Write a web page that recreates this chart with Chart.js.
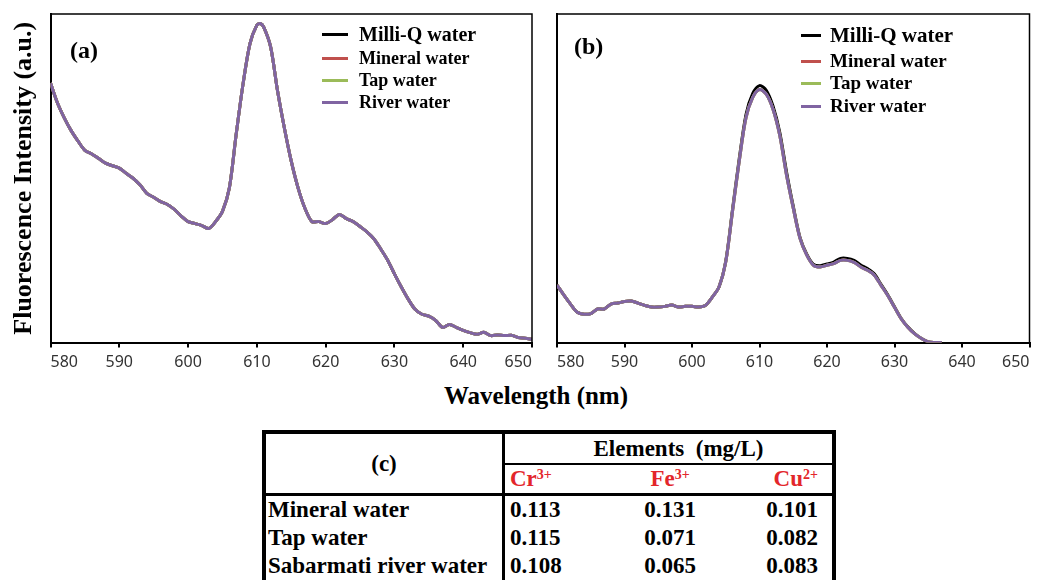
<!DOCTYPE html>
<html>
<head>
<meta charset="utf-8">
<script src="https://cdn.jsdelivr.net/npm/chart.js@4"></script>
<style>
  body { margin: 0; background: #fff; overflow: hidden; width: 1038px; height: 580px; position: relative; font-family: 'Liberation Serif', serif; }
  canvas { position: absolute; top: 0; }
  .panel { position: absolute; font: bold 24px 'Liberation Serif', serif; color: #000; }
  .legend-row { position: absolute; white-space: nowrap; font-weight: bold; color: #000; }
  .legend-line { position: absolute; height: 3px; }
  #xtitle { position: absolute; left: 0; width: 1072px; top: 382px; text-align: center; font: bold 25px 'Liberation Serif', serif; }
  #tbl { position: absolute; left: 262px; top: 430px; border-collapse: separate; border-spacing: 0; border: 4px solid #000; table-layout: fixed; font: bold 23px 'Liberation Serif', serif; color: #000; }
  #tbl td { padding: 0; box-sizing: border-box; line-height: 24px; white-space: nowrap; }
  .red { color: #e3262b; }
  sup { font-size: 14px; vertical-align: 7px; line-height: 0; }
</style>
</head>
<body>
<canvas id="chartA" width="550" height="380" style="left:0px"></canvas>
<canvas id="chartB" width="530" height="380" style="left:530px"></canvas>
<div class="panel" style="left:70px; top:37px">(a)</div>
<div class="panel" style="left:574px; top:33px">(b)</div>
<div id="legendA"></div>
<div id="legendB"></div>
<div id="xtitle">Wavelength (nm)</div>
<table id="tbl"></table>
<script>
// series
const seriesNames = ['Milli-Q water', 'Mineral water', 'Tap water', 'River water'];
const seriesColors = ['#000000', '#c0504d', '#9bbb59', '#8064a2'];

// panel (a) - all four spectra overlap
const wavelengthsA = [580, 581, 582, 583, 584, 585, 586, 587, 588, 589, 590, 591, 592, 593, 594, 595, 596, 597, 598, 599,
  600, 601, 602, 603, 604, 605, 606, 607, 608, 609, 610, 610.5, 611, 612, 613, 614, 615, 616, 617, 618, 619,
  620, 621, 622, 623, 624, 625, 626, 627, 628, 629, 630, 631, 632, 633, 634, 635, 636, 637, 638, 639,
  640, 641, 642, 643, 644, 645, 646, 647, 648, 649, 650];
const intensityA = [79, 73, 68.4, 64.5, 61.3, 58.5, 57.4, 56, 54.6, 53.8, 53.1, 51.5, 50, 48, 45.4, 44.2, 42.9, 42, 40.5, 38.5,
  36.8, 36.2, 35.6, 34.7, 36.8, 39.9, 47, 63.5, 78.8, 91, 96.6, 97.1, 96, 90, 76.7, 65.3, 55.2, 47, 40.8, 36.8, 36.8,
  36.2, 37.4, 39, 37.7, 36.8, 35.3, 33.7, 31.6, 28.5, 25.1, 20.9, 16.9, 13.2, 10.1, 8.6, 8, 6.7, 4.6, 5.5, 4.6,
  3.7, 3, 2.5, 3.1, 2.1, 2.3, 2.1, 2.2, 1.5, 1.3, 1];

// panel (b)
const wavelengthsB = [580, 581, 582, 583, 584, 585, 586, 587, 588, 589, 590, 591, 592, 593, 594, 595, 596, 597, 598, 599,
  600, 601, 602, 603, 604, 605, 606, 607, 608, 609, 610, 611, 612, 613, 614, 615, 616, 617, 618, 619,
  620, 621, 622, 623, 624, 625, 626, 627, 628, 629, 630, 631, 632, 633, 634, 635, 636, 637];
const intensityBMilliQ = [17.5, 14.5, 11.7, 9.2, 8.6, 8.8, 10.2, 10.2, 11.7, 12, 12.5, 12.6, 12, 11.3, 10.8, 10.8, 11, 11.4, 10.8, 11,
  11, 10.8, 11.3, 13.8, 16.9, 24.8, 40.5, 56, 69.4, 75.8, 78.2, 76.8, 72, 64, 52, 41.5, 32, 26.9, 23.8, 23.4,
  23.9, 24.5, 25.6, 25.6, 25, 23.6, 22.5, 20.9, 17.7, 14.5, 10.9, 7.3, 4.7, 2.7, 1.2, 0.2, 0, 0];
const intensityBSamples = [17.5, 14.5, 11.7, 9.2, 8.6, 8.8, 10.2, 10.2, 11.7, 12, 12.5, 12.6, 12, 11.3, 10.8, 10.8, 11, 11.4, 10.8, 11,
  11, 10.8, 11.3, 13.8, 16.9, 24.5, 39.9, 55.2, 68.4, 74.6, 77, 75.6, 71, 63, 51, 40.9, 31.7, 26.6, 23.5, 23,
  23.5, 24, 25, 25, 24.4, 23, 22, 20.5, 17.4, 14.3, 10.7, 7.2, 4.6, 2.6, 1.2, 0.2, 0, 0];

// table (c)
const elementHeads = [['Cr', '3+'], ['Fe', '3+'], ['Cu', '2+']];
const sampleNames = ['Mineral water', 'Tap water', 'Sabarmati river water'];
const crValues = ['0.113', '0.115', '0.108'];
const feValues = ['0.131', '0.071', '0.065'];
const cuValues = ['0.101', '0.082', '0.083'];

const framePlugin = {
  id: 'frame',
  afterDraw(chart) {
    const { ctx, chartArea: a } = chart;
    ctx.save();
    ctx.strokeStyle = '#000';
    ctx.lineWidth = 1.5;
    ctx.beginPath();
    ctx.moveTo(a.left, a.top);
    ctx.lineTo(a.right, a.top);
    ctx.lineTo(a.right, a.bottom);
    ctx.stroke();
    ctx.restore();
  }
};

function toPoints(xs, ys) {
  return xs.map((x, i) => ({ x: x, y: ys[i] }));
}

function makeDatasets(xs, valueSets) {
  return seriesNames.map((name, i) => ({
    label: name,
    data: toPoints(xs, valueSets[i]),
    borderColor: seriesColors[i],
    borderWidth: 3,
    pointRadius: 0,
    tension: 0.3,
    fill: false,
    order: seriesNames.length - 1 - i
  }));
}

function makeChart(id, datasets, yWidth, padRight, yTitle) {
  return new Chart(document.getElementById(id), {
    type: 'line',
    data: { datasets: datasets },
    plugins: [framePlugin],
    options: {
      responsive: false,
      animation: false,
      devicePixelRatio: 1,
      layout: { padding: { top: 14, right: padRight, left: 0, bottom: 0 } },
      plugins: { legend: { display: false }, tooltip: { enabled: false } },
      scales: {
        x: {
          type: 'linear', min: 580, max: 650,
          ticks: { stepSize: 10, color: '#333', padding: 5, align: 'inner', font: { family: "'Noto Sans', sans-serif", size: 16 } },
          grid: { drawOnChartArea: false, color: '#000', lineWidth: 2, tickLength: 5 },
          border: { color: '#000', width: 2 },
          afterFit(s) { s.height = 37.5; }
        },
        y: {
          min: 0, max: 100,
          ticks: { display: false },
          grid: { display: false },
          border: { color: '#000', width: 2 },
          title: {
            display: !!yTitle, text: yTitle || '', color: '#000',
            font: { family: "'Liberation Serif', serif", size: 26, weight: 'bold' },
            padding: { top: 9, bottom: 0 }
          },
          afterFit(s) { s.width = yWidth; }
        }
      }
    }
  });
}

makeChart('chartA', makeDatasets(wavelengthsA, [intensityA, intensityA, intensityA, intensityA]), 50.5, 18,
  'Fluorescence Intensity (a.u.)');
makeChart('chartB', makeDatasets(wavelengthsB, [intensityBMilliQ, intensityBSamples, intensityBSamples, intensityBSamples]), 27, 30.5, null);

// legends inside the plots
function buildLegend(el, lineLeft, lineWidth, textLeft, rowsY, sizes) {
  seriesNames.forEach((name, i) => {
    const line = document.createElement('div');
    line.className = 'legend-line';
    line.style.cssText = `left:${lineLeft}px; width:${lineWidth}px; top:${rowsY[i] - 1.5}px; background:${seriesColors[i]}`;
    el.appendChild(line);
    const txt = document.createElement('div');
    txt.className = 'legend-row';
    txt.style.cssText = `left:${textLeft}px; top:${rowsY[i] - 12}px; line-height:24px; font-size:${sizes[i]}px`;
    txt.textContent = name;
    el.appendChild(txt);
  });
}
buildLegend(document.getElementById('legendA'), 322, 26, 359, [34, 58, 80, 102], [20, 18, 18, 18]);
buildLegend(document.getElementById('legendB'), 801, 20, 830, [35, 61, 83, 106], [21, 19, 19, 19]);

// table (c)
const tbl = document.getElementById('tbl');
let html = '<colgroup><col style="width:239px"><col style="width:110px"><col style="width:110px"><col style="width:107px"></colgroup>';
html += '<tr><td rowspan="2" style="text-align:center; border-right:3px solid #000; border-bottom:3px solid #000; height:62px">(c)</td>' +
  '<td colspan="3" style="text-align:center; padding-left:20px; border-bottom:2px solid #000; height:31px">Elements&nbsp; (mg/L)</td></tr>';
const aligns = ['text-align:left; padding-left:5px', 'text-align:center', 'text-align:right; padding-right:14px'];
html += '<tr>' + elementHeads.map((h, i) =>
  `<td class="red" style="${aligns[i]}; border-bottom:3px solid #000; height:31px">${h[0]}<sup>${h[1]}</sup></td>`).join('') + '</tr>';
sampleNames.forEach((name, r) => {
  html += `<tr><td style="padding-left:2px; border-right:3px solid #000; height:28px">${name}</td>` +
    [crValues[r], feValues[r], cuValues[r]].map((v, i) => `<td style="${aligns[i]}; height:28px">${v}</td>`).join('') + '</tr>';
});
tbl.innerHTML = html;
</script>
</body>
</html>
